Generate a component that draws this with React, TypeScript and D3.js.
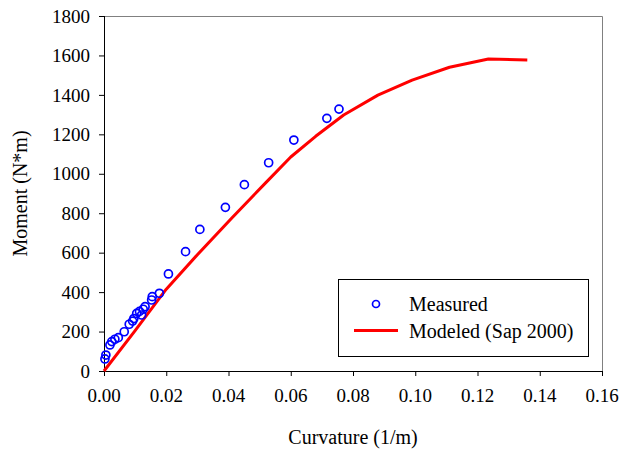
import React from "react";
import * as d3 from "d3";

// Measured moment-curvature test points
const measuredCurvature = [
  0.0003, 0.0006, 0.0019, 0.0025, 0.0035, 0.0046, 0.0065, 0.0081, 0.0092, 0.0096,
  0.0105, 0.0114, 0.0121, 0.0126, 0.0132, 0.0153, 0.0155, 0.0178, 0.0207, 0.0262,
  0.0308, 0.039, 0.0451, 0.0529, 0.061, 0.0716, 0.0755,
];
const measuredMoment = [
  61, 81, 132, 149, 161, 169, 199, 237, 253, 266,
  292, 302, 284, 313, 326, 360, 377, 394, 492, 605,
  718, 830, 945, 1056, 1171, 1281, 1328,
];

// SAP 2000 model curve
const modelCurvature = [0, 0.01, 0.02, 0.03, 0.041, 0.052, 0.06, 0.068, 0.077, 0.088, 0.099, 0.111, 0.1235, 0.136];
const modelMoment = [0, 205, 415, 590, 775, 955, 1085, 1190, 1298, 1399, 1475, 1540, 1582, 1577];

const xTicks = [0, 0.02, 0.04, 0.06, 0.08, 0.1, 0.12, 0.14, 0.16];
const yTicks = [0, 200, 400, 600, 800, 1000, 1200, 1400, 1600, 1800];

const W = 622;
const H = 451;
const left = 104;
const right = 602;
const top = 16;
const bottom = 371;
const tickStyle: React.CSSProperties = { fontFamily: "Liberation Serif", fontSize: 19 };
const textStyle: React.CSSProperties = { fontFamily: "Liberation Serif", fontSize: 20 };

export default function App() {
  const x = d3.scaleLinear().domain([0, 0.16]).range([left, right]);
  const y = d3.scaleLinear().domain([0, 1800]).range([bottom, top]);

  const line = d3
    .line<number>()
    .x((_, i) => x(modelCurvature[i]))
    .y((d) => y(d));

  return (
    <svg
      width={W}
      height={H}
      style={{ position: "absolute", left: 0, top: 0, background: "#fff" }}
    >
      {/* plot frame: top and right edges */}
      <path d={`M${left},${top + 0.5}H${right + 0.5}V${bottom}`} fill="none" stroke="#808080" strokeWidth={1} />

      {/* axes */}
      <line x1={left + 0.5} x2={left + 0.5} y1={top} y2={bottom} stroke="#000" strokeWidth={1} />
      <line x1={left} x2={right + 1} y1={bottom + 0.5} y2={bottom + 0.5} stroke="#000" strokeWidth={1} />

      {yTicks.map((t) => (
        <g key={`y${t}`}>
          <line x1={left - 5} x2={left} y1={y(t) + 0.5} y2={y(t) + 0.5} stroke="#000" />
          <text x={left - 14} y={y(t)} dy="0.35em" textAnchor="end" style={tickStyle}>
            {t}
          </text>
        </g>
      ))}
      {xTicks.map((t) => (
        <g key={`x${t}`}>
          <line x1={x(t) + 0.5} x2={x(t) + 0.5} y1={bottom} y2={bottom + 5} stroke="#000" />
          <text x={x(t)} y={bottom + 31} textAnchor="middle" style={tickStyle}>
            {d3.format(".2f")(t)}
          </text>
        </g>
      ))}

      <text x={(left + right) / 2} y={444} textAnchor="middle" style={textStyle}>
        Curvature (1/m)
      </text>
      <text
        transform={`translate(27,${(top + bottom) / 2}) rotate(-90)`}
        textAnchor="middle"
        style={textStyle}
      >
        Moment (N*m)
      </text>

      {/* model curve */}
      <path d={line(modelMoment) ?? ""} fill="none" stroke="#ff0000" strokeWidth={3} strokeLinejoin="round" />

      {/* measured points */}
      {measuredMoment.map((m, i) => (
        <circle
          key={i}
          cx={x(measuredCurvature[i])}
          cy={y(m)}
          r={4}
          fill="none"
          stroke="#0000ff"
          strokeWidth={1.7}
        />
      ))}

      {/* legend */}
      <rect x={338.5} y={279.5} width={250} height={77} fill="#fff" stroke="#000" strokeWidth={1} />
      <circle cx={376} cy={304} r={3.5} fill="none" stroke="#0000ff" strokeWidth={1.7} />
      <text x={409} y={304} dy="0.35em" style={textStyle}>
        Measured
      </text>
      <line x1={354} x2={398} y1={330.5} y2={330.5} stroke="#ff0000" strokeWidth={3} />
      <text x={409} y={331} dy="0.35em" style={textStyle}>
        Modeled (Sap 2000)
      </text>
    </svg>
  );
}
